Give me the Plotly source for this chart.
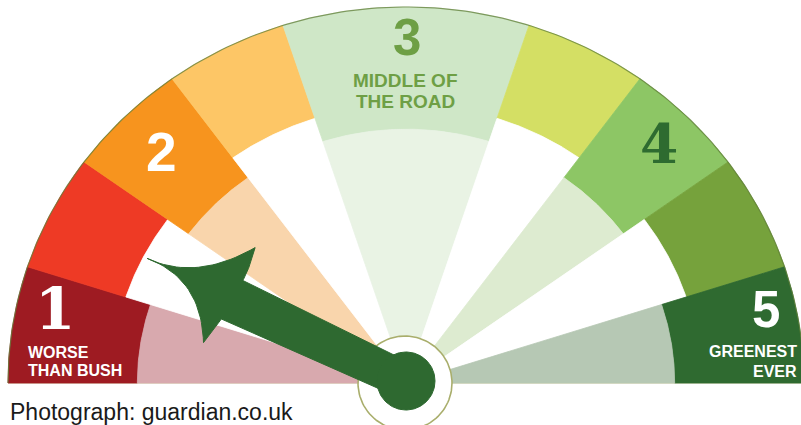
import numpy as np
import plotly.graph_objects as go

# ---------------- data ----------------
segment_spans = [18, 18, 18, 18, 36, 18, 18, 18, 18]          # degrees, left -> right
band_colors = ["#9E1B22", "#EE3A25", "#F7941E", "#FDC666", "#CFE7C7",
               "#D4DF64", "#8DC665", "#76A23C", "#2F6A30"]
inner_colors = ["#D8A9AE", "#FFFFFF", "#F9D5AC", "#FFFFFF", "#E9F3E4",
                "#FFFFFF", "#DDEBD0", "#FFFFFF", "#B6C8B4"]
inner_filled = [True, False, True, False, True, False, True, False, True]
score_labels = ["1", "2", "3", "4", "5"]
score_captions = [["WORSE", "THAN BUSH"], [], ["MIDDLE OF", "THE ROAD"], [], ["GREENEST", "EVER"]]
needle_angle = 153.0          # gauge angle in degrees (180 = far left)
credit = "Photograph: guardian.co.uk"

# ---------------- geometry / style (layout, not data) ----------------
W, H = 801, 425
CX, CY = 406.0, 383.0
RX, RY = 398.0, 376.0
R_IN_FILLED, R_IN_WHITE = 0.675, 0.74
NEEDLE_COL = "#2E6930"


def pt(r, ang_deg):
    a = np.radians(ang_deg)
    return CX + r * RX * np.cos(a), CY - r * RY * np.sin(a)


def arc(r, a0, a1, n=60):
    angs = np.linspace(a0, a1, n)
    xs, ys = pt(r, angs)
    return list(xs), list(ys)


fig = go.Figure()

# baseline
fig.add_trace(go.Scatter(x=[CX - RX, CX + RX], y=[CY, CY], mode="lines",
                         line=dict(color="#C9C79A", width=1.2), hoverinfo="skip"))

bounds = 180 - np.concatenate([[0], np.cumsum(segment_spans)])
for i in range(len(segment_spans)):
    a0, a1 = bounds[i], bounds[i + 1]
    rin = R_IN_FILLED if inner_filled[i] else R_IN_WHITE
    # outer band
    xo, yo = arc(1.0, a0, a1)
    xi, yi = arc(rin, a1, a0)
    fig.add_trace(go.Scatter(x=xo + xi + [xo[0]], y=yo + yi + [yo[0]], fill="toself",
                             fillcolor=band_colors[i], mode="lines",
                             line=dict(color=band_colors[i], width=0.8), hoverinfo="skip"))
    # inner wedge
    xw, yw = arc(rin, a0, a1)
    fig.add_trace(go.Scatter(x=[CX] + xw + [CX], y=[CY] + yw + [CY], fill="toself",
                             fillcolor=inner_colors[i], mode="lines",
                             line=dict(color=inner_colors[i], width=0.8), hoverinfo="skip"))

# thin outer rim
xr, yr = arc(1.0, 180, 0, 200)
fig.add_trace(go.Scatter(x=xr, y=yr, mode="lines",
                         line=dict(color="rgba(95,125,55,0.75)", width=1.2), hoverinfo="skip"))

# centre hub (white ring)
t = np.linspace(0, 2 * np.pi, 120)
fig.add_trace(go.Scatter(x=list(405 + 47 * np.cos(t)), y=list(383 + 47 * np.sin(t)), fill="toself",
                         fillcolor="#FFFFFF", mode="lines",
                         line=dict(color="#A9AE6C", width=1.6), hoverinfo="skip"))

# needle (arrow) built from needle angle
tipx, tipy = pt(0.73, needle_angle)
ux, uy = CX - tipx, (CY - 2) - tipy
L = np.hypot(ux, uy)
ux, uy = ux / L, uy / L
px, py = -uy, ux


def qbez(p0, c, p2, n=25):
    s = np.linspace(0, 1, n)[:, None]
    p0, c, p2 = map(np.array, (p0, c, p2))
    return list((1 - s) ** 2 * p0 + 2 * (1 - s) * s * c + s ** 2 * p2)


local = []
local += qbez((0, 0), (54, 0), (93, -56))
local += qbez((93, -56), (97, -33), (96, -21))
local += [np.array((L, -18)), np.array((L, 18))]
local += qbez((93, 23), (90, 39), (87, 52))
local += qbez((87, 52), (58, -5), (0, 0))
nx = [tipx + a * ux + b * px for a, b in local]
ny = [tipy + a * uy + b * py for a, b in local]
fig.add_trace(go.Scatter(x=nx, y=ny, fill="toself", fillcolor=NEEDLE_COL, mode="lines",
                         line=dict(color=NEEDLE_COL, width=1), hoverinfo="skip"))
fig.add_trace(go.Scatter(x=list(406 + 29 * np.cos(t)), y=list(381 + 29 * np.sin(t)), fill="toself",
                         fillcolor=NEEDLE_COL, mode="lines",
                         line=dict(color=NEEDLE_COL, width=1), hoverinfo="skip"))

# ---------------- text ----------------
SANS = "Liberation Sans"
num_style = [
    dict(x=55, y=309, size=58, family="DejaVu Serif", color="#FFFFFF"),
    dict(x=161, y=152, size=55, family=SANS, color="#FFFFFF"),
    dict(x=407, y=37, size=51, family=SANS, color="#6E9F45"),
    dict(x=659, y=143, size=55, family="DejaVu Serif", color="#2E6B30"),
    dict(x=766, y=309, size=51, family=SANS, color="#FFFFFF"),
]
cap_style = [
    dict(x=27, ys=[352, 370.5], anchor="left", size=16, color="#FFFFFF"),
    None,
    dict(x=405, ys=[80, 101.5], anchor="center", size=19, color="#6E9F45"),
    None,
    dict(x=798, ys=[351.5, 371.5], anchor="right", size=16, color="#FFFFFF"),
]
ann = []
for lab, caps, ns, cs in zip(score_labels, score_captions, num_style, cap_style):
    ann.append(dict(x=ns["x"], y=ns["y"], text="<b>%s</b>" % lab, showarrow=False,
                    xanchor="center", yanchor="middle", borderpad=0,
                    font=dict(family=ns["family"], size=ns["size"], color=ns["color"])))
    if cs:
        for line, yy in zip(caps, cs["ys"]):
            ann.append(dict(x=cs["x"], y=yy, text="<b>%s</b>" % line, showarrow=False,
                            xanchor=cs["anchor"], yanchor="middle", borderpad=0,
                            font=dict(family=SANS, size=cs["size"], color=cs["color"])))
ann.append(dict(x=9, y=412, text=credit, showarrow=False, xanchor="left", yanchor="middle",
                borderpad=0, font=dict(family="Liberation Sans", size=23, color="#1A1A1A")))

fig.update_layout(
    width=W, height=H, autosize=False,
    margin=dict(l=0, r=0, t=0, b=0),
    paper_bgcolor="#FFFFFF", plot_bgcolor="#FFFFFF",
    showlegend=False,
    xaxis=dict(range=[0, W], visible=False, fixedrange=True),
    yaxis=dict(range=[H, 0], visible=False, fixedrange=True),
    annotations=ann,
)

fig.write_html("out.html", config={"displayModeBar": False, "staticPlot": True},
               post_script="document.body.style.margin='0';")
